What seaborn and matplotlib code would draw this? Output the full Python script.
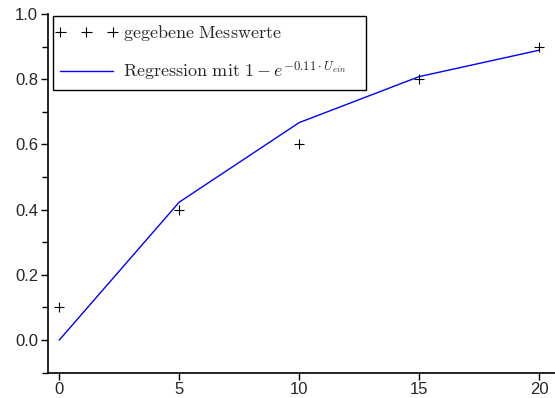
import matplotlib
matplotlib.use("Agg")
import matplotlib.pyplot as plt
import seaborn as sns
import pandas as pd
from matplotlib.ticker import MultipleLocator
from matplotlib.collections import PathCollection
from matplotlib.legend_handler import HandlerPathCollection

# measured values and the regression curve
u_ein = [0, 5, 10, 15, 20]
messwerte = [0.1, 0.4, 0.6, 0.8, 0.9]
regression = [0.0, 0.423, 0.667, 0.808, 0.889]

df = pd.DataFrame({"u": u_ein, "mess": messwerte, "reg": regression})

sns.set_style("ticks")
plt.rcParams["font.family"] = ["Liberation Sans", "DejaVu Sans"]
plt.rcParams["mathtext.fontset"] = "cm"

fig = plt.figure(figsize=(5.55, 3.98), dpi=100)
ax = fig.add_axes([0.086, 0.0636, 0.914, 0.9012])

sns.scatterplot(data=df, x="u", y="mess", marker="+", s=60, color="black",
                linewidth=0.8, ax=ax, label=r"$\mathrm{gegebene\ Messwerte}$", zorder=3)
sns.lineplot(data=df, x="u", y="reg", color="blue", linewidth=1.0, ax=ax,
             label=r"$\mathrm{Regression\ mit\ }1-e^{-0.11\cdot U_{ein}}$" + "\u00a0\u00a0\u00a0")

ax.set_xlim(-0.48, 20.66)
ax.set_ylim(-0.1, 1.0)
ax.set_xticks([0, 5, 10, 15, 20])
ax.set_yticks([0.0, 0.2, 0.4, 0.6, 0.8, 1.0])
ax.set_yticklabels(["0.0", "0.2", "0.4", "0.6", "0.8", "1.0"])
ax.yaxis.set_minor_locator(MultipleLocator(0.1))
ax.set_xlabel("")
ax.set_ylabel("")
ax.tick_params(axis="both", which="major", labelsize=12, length=5, width=1, color="black", pad=2)
ax.tick_params(axis="y", which="minor", length=4, width=1, color="black")
for side in ["top", "right"]:
    ax.spines[side].set_visible(False)
for side in ["left", "bottom"]:
    ax.spines[side].set_linewidth(1.2)
    ax.spines[side].set_color("black")

leg = ax.legend(loc="upper left", bbox_to_anchor=(0.0105, 0.9945), borderaxespad=0.0,
                fontsize=13, scatterpoints=3, scatteryoffsets=[0.5],
                handlelength=2.9, handletextpad=0.6,
                frameon=True, fancybox=False, shadow=False, borderpad=0.4,
                labelspacing=0.9,
                handler_map={PathCollection: HandlerPathCollection(marker_pad=0.0)})
leg.get_frame().set_edgecolor("black")
leg.get_frame().set_linewidth(1.0)
leg.get_frame().set_alpha(1)

fig.savefig("out.png", dpi=100)
